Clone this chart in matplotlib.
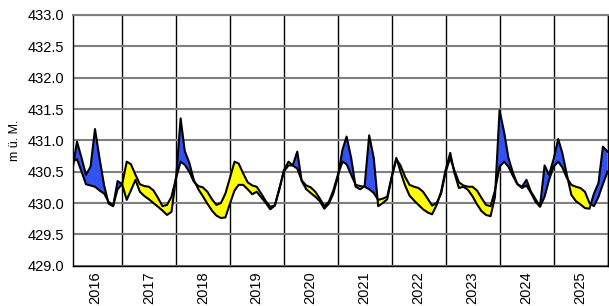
import matplotlib
matplotlib.use('Agg')
import matplotlib.pyplot as plt
import matplotlib.dates as mdates
from matplotlib.ticker import FormatStrFormatter, NullFormatter
import numpy as np
import pandas as pd

plt.rcParams['font.family'] = ['Liberation Sans', 'DejaVu Sans']

start_month = '2016-02-01'

# Series 1 (monthly values, Feb 2016 .. Jan 2026)
s1_2016 = [430.55, 430.98, 430.72, 430.45, 430.58, 431.18, 430.71, 430.28, 429.99, 429.95, 430.35]
s1_2017 = [430.30, 430.05, 430.20, 430.37, 430.18, 430.11, 430.06, 430.00, 429.94, 429.88, 429.81, 429.86]
s1_2018 = [430.40, 431.35, 430.83, 430.64, 430.37, 430.22, 430.11, 429.99, 429.88, 429.80, 429.76, 429.77]
s1_2019 = [429.99, 430.20, 430.29, 430.29, 430.22, 430.14, 430.18, 430.09, 430.00, 429.90, 429.96, 430.23]
s1_2020 = [430.50, 430.60, 430.60, 430.82, 430.35, 430.22, 430.16, 430.10, 430.03, 429.91, 429.99, 430.15]
s1_2021 = [430.42, 430.85, 431.06, 430.72, 430.26, 430.22, 430.27, 431.08, 430.72, 429.95, 430.00, 430.06]
s1_2022 = [430.42, 430.72, 430.50, 430.28, 430.12, 430.04, 429.97, 429.90, 429.85, 429.82, 429.97, 430.18]
s1_2023 = [430.53, 430.80, 430.48, 430.24, 430.26, 430.21, 430.11, 429.98, 429.87, 429.81, 429.79, 430.10]
s1_2024 = [431.48, 431.13, 430.72, 430.48, 430.30, 430.26, 430.37, 430.18, 430.06, 429.95, 430.60, 430.45]
s1_2025 = [430.70, 431.02, 430.80, 430.45, 430.13, 430.03, 429.98, 429.92, 429.91, 430.15, 430.32, 430.90]
s1_2026 = [430.82]

# Series 2 (monthly values, Feb 2016 .. Jan 2026)
s2_2016 = [430.66, 430.70, 430.50, 430.30, 430.28, 430.26, 430.20, 430.15, 430.02, 429.96, 430.22]
s2_2017 = [430.30, 430.66, 430.62, 430.45, 430.30, 430.27, 430.26, 430.20, 430.08, 429.95, 429.97, 430.10]
s2_2018 = [430.40, 430.66, 430.61, 430.50, 430.34, 430.27, 430.25, 430.18, 430.06, 429.97, 430.00, 430.15]
s2_2019 = [430.40, 430.66, 430.63, 430.47, 430.33, 430.28, 430.26, 430.15, 430.03, 429.94, 429.96, 430.21]
s2_2020 = [430.52, 430.66, 430.60, 430.55, 430.36, 430.28, 430.25, 430.18, 430.07, 429.95, 430.02, 430.20]
s2_2021 = [430.45, 430.66, 430.62, 430.45, 430.29, 430.27, 430.26, 430.22, 430.16, 430.05, 430.07, 430.10]
s2_2022 = [430.42, 430.70, 430.60, 430.42, 430.29, 430.26, 430.24, 430.18, 430.07, 429.96, 430.00, 430.15]
s2_2023 = [430.50, 430.72, 430.52, 430.33, 430.28, 430.26, 430.26, 430.20, 430.08, 429.97, 429.95, 430.20]
s2_2024 = [430.58, 430.66, 430.58, 430.43, 430.30, 430.24, 430.28, 430.16, 430.02, 429.94, 430.10, 430.37]
s2_2025 = [430.58, 430.66, 430.57, 430.40, 430.29, 430.26, 430.24, 430.18, 430.00, 429.95, 430.10, 430.30]
s2_2026 = [430.50]

y_ticks = [429.0, 429.5, 430.0, 430.5, 431.0, 431.5, 432.0, 432.5, 433.0]
y_label = 'm ü. M.'

s1 = np.array(s1_2016 + s1_2017 + s1_2018 + s1_2019 + s1_2020 + s1_2021 +
              s1_2022 + s1_2023 + s1_2024 + s1_2025 + s1_2026)
s2 = np.array(s2_2016 + s2_2017 + s2_2018 + s2_2019 + s2_2020 + s2_2021 +
              s2_2022 + s2_2023 + s2_2024 + s2_2025 + s2_2026)
dates = pd.date_range(start_month, periods=len(s1), freq='MS')
x = mdates.date2num(dates.to_pydatetime())

W, H = 609, 306
fig = plt.figure(figsize=(W / 100, H / 100), dpi=100)
left, right, top, bottom = 72.7, 607.5, 15.0, 265.7
ax = fig.add_axes([left / W, 1 - bottom / H, (right - left) / W, (bottom - top) / H])

blue = '#3352f2'
yellow = '#ffff00'
ax.fill_between(x, s1, s2, where=s1 >= s2, interpolate=True, color=blue, lw=0, zorder=2)
ax.fill_between(x, s1, s2, where=s1 < s2, interpolate=True, color=yellow, lw=0, zorder=2)
ax.plot(x, s1, color='black', lw=1.5, zorder=3)
ax.plot(x, s2, color='black', lw=1.5, zorder=3)

ax.set_xlim(x[0], x[-1])
ax.set_ylim(y_ticks[0], y_ticks[-1])
ax.set_yticks(y_ticks)
ax.yaxis.set_major_formatter(FormatStrFormatter('%.1f'))

ax.xaxis_date()
ax.xaxis.set_major_locator(mdates.YearLocator())
ax.xaxis.set_major_formatter(NullFormatter())
ax.xaxis.set_minor_locator(mdates.YearLocator(month=7))
ax.xaxis.set_minor_formatter(mdates.DateFormatter('%Y'))

ax.tick_params(axis='x', which='both', length=0)
ax.tick_params(axis='x', which='minor', labelrotation=90, labelsize=10.5, pad=4)
ax.tick_params(axis='y', length=0, labelsize=10.5, pad=6)

ax.set_axisbelow(True)
ax.grid(axis='x', which='major', color='black', lw=1)
ax.grid(axis='y', color='#808080', lw=1.5)

for side in ['left', 'bottom', 'right']:
    ax.spines[side].set_color('black')
    ax.spines[side].set_linewidth(1)
ax.spines['top'].set_color('#808080')
ax.spines['top'].set_linewidth(1.5)

ax.set_ylabel(y_label, fontsize=9, labelpad=5)

fig.savefig('out.png', dpi=100)
